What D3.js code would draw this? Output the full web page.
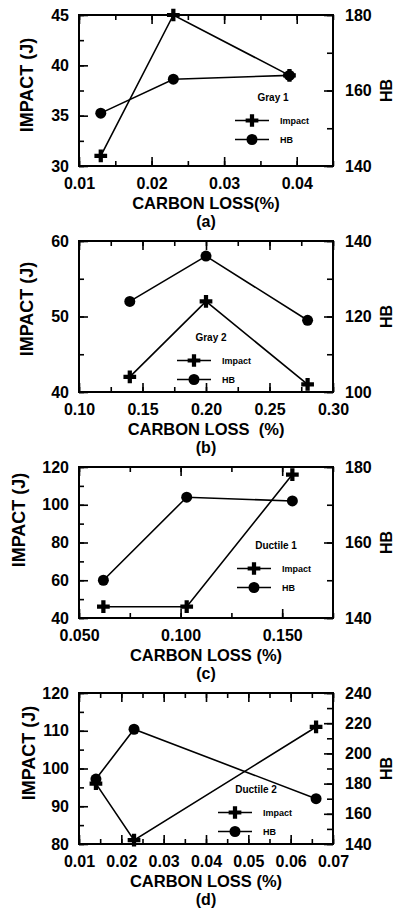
<!DOCTYPE html>
<html>
<head>
<meta charset="utf-8">
<script src="https://cdn.jsdelivr.net/npm/d3@7"></script>
<style>
  body { margin: 0; background: #fff; }
  svg { display: block; }
  text { font-family: "Liberation Sans", Arial, sans-serif; font-weight: bold; fill: #000; }
</style>
</head>
<body>
<div id="chart"></div>
<script>
// values
const grayOneLoss = [0.013, 0.023, 0.039];
const grayOneImpact = [31, 45, 39];
const grayOneHB = [154, 163, 164];

const grayTwoLoss = [0.14, 0.20, 0.28];
const grayTwoImpact = [42, 52, 41];
const grayTwoHB = [124, 136, 119];

const ductileOneLoss = [0.062, 0.103, 0.155];
const ductileOneImpact = [46, 46, 116];
const ductileOneHB = [150, 172, 171];

const ductileTwoLoss = [0.014, 0.023, 0.066];
const ductileTwoImpact = [96, 81, 111];
const ductileTwoHB = [183, 216, 170];

// axis domains and tick labels
const grayOneX = [0.01, 0.045], grayOneXTicks = [0.01, 0.02, 0.03, 0.04];
const grayOneY = [30, 45], grayOneYTicks = [30, 35, 40, 45];
const grayOneHBRange = [140, 180], grayOneHBTicks = [140, 160, 180];

const grayTwoX = [0.10, 0.30], grayTwoXTicks = [0.10, 0.15, 0.20, 0.25, 0.30];
const grayTwoY = [40, 60], grayTwoYTicks = [40, 50, 60];
const grayTwoHBRange = [100, 140], grayTwoHBTicks = [100, 120, 140];

const ductileOneX = [0.05, 0.175], ductileOneXTicks = [0.05, 0.10, 0.15];
const ductileOneY = [40, 120], ductileOneYTicks = [40, 60, 80, 100, 120];
const ductileOneHBRange = [140, 180], ductileOneHBTicks = [140, 160, 180];

const ductileTwoX = [0.01, 0.07], ductileTwoXTicks = [0.01, 0.02, 0.03, 0.04, 0.05, 0.06, 0.07];
const ductileTwoY = [80, 120], ductileTwoYTicks = [80, 90, 100, 110, 120];
const ductileTwoHBRange = [140, 240], ductileTwoHBTicks = [140, 160, 180, 200, 220, 240];

const panels = [
  { name: 'Gray 1', letter: '(a)', xTitle: 'CARBON LOSS(%)', loss: grayOneLoss, impact: grayOneImpact, hb: grayOneHB,
    xDom: grayOneX, xTicks: grayOneXTicks, xMinor: 0.005, xFmt: '.2f',
    yDom: grayOneY, yTicks: grayOneYTicks, yMinor: 2.5, hbDom: grayOneHBRange, hbTicks: grayOneHBTicks, hbMinor: 10,
    top: 15, titleY: 70, titleX: 33, legend: { x: 235, y: 86, tx: 38 } },
  { name: 'Gray 2', letter: '(b)', xTitle: 'CARBON LOSS  (%)', loss: grayTwoLoss, impact: grayTwoImpact, hb: grayTwoHB,
    xDom: grayTwoX, xTicks: grayTwoXTicks, xMinor: 0.025, xFmt: '.2f',
    yDom: grayTwoY, yTicks: grayTwoYTicks, yMinor: 5, hbDom: grayTwoHBRange, hbTicks: grayTwoHBTicks, hbMinor: 10,
    top: 241, titleY: 68, titleX: 33, legend: { x: 177, y: 100, tx: 34 } },
  { name: 'Ductile 1', letter: '(c)', xTitle: 'CARBON LOSS (%)', loss: ductileOneLoss, impact: ductileOneImpact, hb: ductileOneHB,
    xDom: ductileOneX, xTicks: ductileOneXTicks, xMinor: 0.025, xFmt: '.3f',
    yDom: ductileOneY, yTicks: ductileOneYTicks, yMinor: 10, hbDom: ductileOneHBRange, hbTicks: ductileOneHBTicks, hbMinor: 10,
    top: 467, titleY: 53, titleX: 25, legend: { x: 237, y: 82, tx: 39 } },
  { name: 'Ductile 2', letter: '(d)', xTitle: 'CARBON LOSS (%)', loss: ductileTwoLoss, impact: ductileTwoImpact, hb: ductileTwoHB,
    xDom: ductileTwoX, xTicks: ductileTwoXTicks, xMinor: 0.005, xFmt: '.2f',
    yDom: ductileTwoY, yTicks: ductileTwoYTicks, yMinor: 5, hbDom: ductileTwoHBRange, hbTicks: ductileTwoHBTicks, hbMinor: 10,
    top: 693, titleY: 60, titleX: 35, legend: { x: 218, y: 100, tx: 38 } }
];

const width = 396, height = 913;
const left = 79, right = 333, boxH = 151;

const svg = d3.select('#chart').append('svg')
  .attr('width', width)
  .attr('height', height);

const crossSym = d3.symbol().type(d3.symbolCross).size(90);

function steps(dom, step) {
  const out = [];
  const n = Math.round((dom[1] - dom[0]) / step);
  for (let i = 0; i <= n; i++) out.push(+(dom[0] + i * step).toFixed(6));
  return out;
}

function drawPanel(p) {
  const g = svg.append('g').attr('transform', `translate(0,${p.top})`);

  const x = d3.scaleLinear().domain(p.xDom).range([left, right]);
  const y = d3.scaleLinear().domain(p.yDom).range([boxH, 0]);
  const yHB = d3.scaleLinear().domain(p.hbDom).range([boxH, 0]);

  const xMinor = steps(p.xDom, p.xMinor);
  const yMinor = steps(p.yDom, p.yMinor);
  const hbMinor = steps(p.hbDom, p.hbMinor);

  const addAxis = (axis, tr) => {
    const a = g.append('g').attr('transform', tr).call(axis);
    a.select('.domain').remove();
    a.selectAll('line').attr('stroke', '#000').attr('stroke-width', 1.6);
    a.selectAll('text').style('font-size', '16px');
    return a;
  };

  // minor ticks on all four sides, pointing inward
  addAxis(d3.axisBottom(x).tickValues(xMinor).tickSize(-5).tickFormat(''), `translate(0,${boxH})`);
  addAxis(d3.axisTop(x).tickValues(xMinor).tickSize(-5).tickFormat(''), 'translate(0,0)');
  addAxis(d3.axisLeft(y).tickValues(yMinor).tickSize(-5).tickFormat(''), `translate(${left},0)`);
  addAxis(d3.axisRight(yHB).tickValues(hbMinor).tickSize(-6).tickFormat(''), `translate(${right},0)`);

  // major ticks with labels
  addAxis(d3.axisBottom(x).tickValues(p.xTicks).tickSize(-9).tickPadding(12).tickFormat(d3.format(p.xFmt)), `translate(0,${boxH})`);
  addAxis(d3.axisTop(x).tickValues(p.xTicks).tickSize(-9).tickFormat(''), 'translate(0,0)');
  addAxis(d3.axisLeft(y).tickValues(p.yTicks).tickSize(-9).tickPadding(10), `translate(${left},0)`);
  addAxis(d3.axisRight(yHB).tickValues(p.hbTicks).tickSize(-9).tickPadding(12), `translate(${right},0)`);

  g.append('rect')
    .attr('x', left).attr('y', 0)
    .attr('width', right - left).attr('height', boxH)
    .attr('fill', 'none').attr('stroke', '#000').attr('stroke-width', 2);

  const impactPts = p.loss.map((d, i) => [x(d), y(p.impact[i])]);
  const hbPts = p.loss.map((d, i) => [x(d), yHB(p.hb[i])]);
  const line = d3.line();

  g.append('path').attr('d', line(impactPts)).attr('fill', 'none').attr('stroke', '#000').attr('stroke-width', 1.6);
  g.append('path').attr('d', line(hbPts)).attr('fill', 'none').attr('stroke', '#000').attr('stroke-width', 1.6);

  g.selectAll('.hb-pt').data(hbPts).enter().append('circle')
    .attr('cx', d => d[0]).attr('cy', d => d[1]).attr('r', 5.5).attr('fill', '#000');
  g.selectAll('.imp-pt').data(impactPts).enter().append('path')
    .attr('d', crossSym).attr('transform', d => `translate(${d[0]},${d[1]})`).attr('fill', '#000');

  // legend: title baseline at legend.y, lines below it
  const lg = g.append('g').attr('transform', `translate(${p.legend.x},${p.legend.y})`);
  lg.append('text').attr('x', p.legend.tx).attr('y', 0).attr('text-anchor', 'middle').style('font-size', '10px').text(p.name);
  [['Impact', 'cross'], ['HB', 'circle']].forEach((item, i) => {
    const ly = 19.5 + i * 19;
    lg.append('line').attr('x1', 0).attr('x2', 34).attr('y1', ly).attr('y2', ly).attr('stroke', '#000').attr('stroke-width', 1.6);
    if (item[1] === 'cross') {
      lg.append('path').attr('d', crossSym).attr('transform', `translate(17,${ly})`).attr('fill', '#000');
    } else {
      lg.append('circle').attr('cx', 17).attr('cy', ly).attr('r', 5.5).attr('fill', '#000');
    }
    lg.append('text').attr('x', 45).attr('y', ly + 3.3).style('font-size', '9px').text(item[0]);
  });

  // titles
  const cx = (left + right) / 2;
  g.append('text').attr('x', cx).attr('y', boxH + 43).attr('text-anchor', 'middle')
    .style('font-size', '16.5px').style('white-space', 'pre').text(p.xTitle);
  g.append('text').attr('x', cx).attr('y', boxH + 61).attr('text-anchor', 'middle')
    .style('font-size', '16px').text(p.letter);
  g.append('text').attr('transform', `translate(${p.titleX},${p.titleY}) rotate(-90)`)
    .attr('text-anchor', 'middle').style('font-size', '18px').text('IMPACT (J)');
  g.append('text').attr('transform', `translate(392,${boxH / 2}) rotate(-90)`)
    .attr('text-anchor', 'middle').style('font-size', '16px').text('HB');
}

panels.forEach(drawPanel);
</script>
</body>
</html>
